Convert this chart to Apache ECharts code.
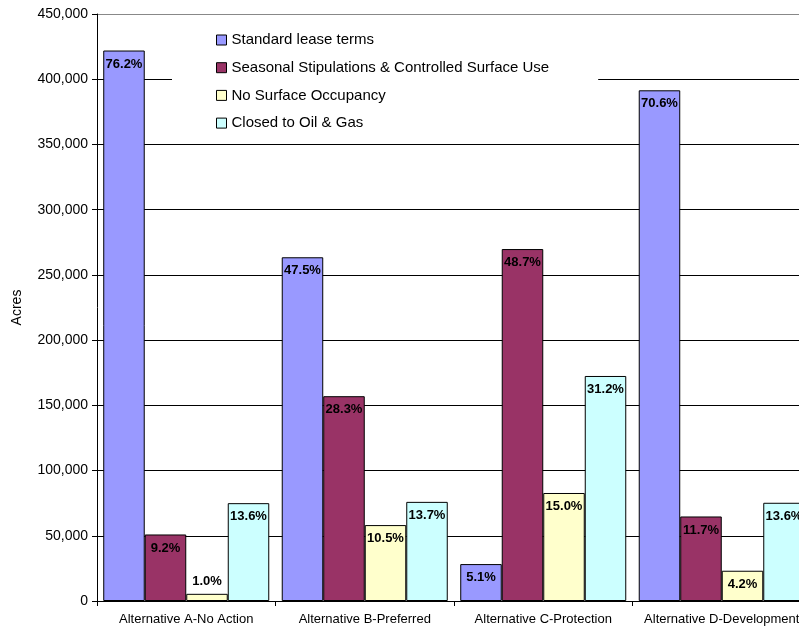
<!DOCTYPE html>
<html>
<head>
<meta charset="utf-8">
<script src="https://cdn.jsdelivr.net/npm/echarts@6/dist/echarts.min.js"></script>
<style>
  html, body { margin: 0; padding: 0; background: #fff; overflow: hidden; }
  #chart { width: 811px; height: 630px; }
</style>
</head>
<body>
<div id="chart"></div>
<script>
// Alternatives compared
const categories = [
  'Alternative A-No Action',
  'Alternative B-Preferred',
  'Alternative C-Protection',
  'Alternative D-Development'
];

// Acres under each lease stipulation class
const standardAcres = [422000, 263500, 28300, 391500];
const seasonalAcres = [51000, 157000, 269800, 64800];
const nsoAcres = [5500, 58200, 82800, 23200];
const closedAcres = [75000, 76000, 172500, 75300];

// Share of each alternative's total, shown on the bars
const standardPct = ['76.2%', '47.5%', '5.1%', '70.6%'];
const seasonalPct = ['9.2%', '28.3%', '48.7%', '11.7%'];
const nsoPct = ['1.0%', '10.5%', '15.0%', '4.2%'];
const closedPct = ['13.6%', '13.7%', '31.2%', '13.6%'];

const seriesNames = [
  'Standard lease terms',
  'Seasonal Stipulations & Controlled Surface Use',
  'No Surface Occupancy',
  'Closed to Oil & Gas'
];
const seriesColors = ['#9999FF', '#993366', '#FFFFCC', '#CCFFFF'];

const FONT = 'Arial, "Liberation Sans", sans-serif';

function makeSeries(idx, values, pcts) {
  return {
    name: seriesNames[idx],
    type: 'bar',
    barGap: '0%',
    barCategoryGap: '7%',
    itemStyle: { color: seriesColors[idx], borderColor: '#000', borderWidth: 1 },
    label: {
      show: true,
      position: 'insideTop',
      distance: 7,
      color: '#000',
      fontFamily: FONT,
      fontWeight: 'bold',
      fontSize: 13,
      formatter: p => pcts[p.dataIndex]
    },
    data: values.map(v => {
      // very short bars carry their label above the bar
      if (v < 15000) {
        return { value: v, label: { position: 'top', distance: 6 } };
      }
      return v;
    })
  };
}

const chart = echarts.init(document.getElementById('chart'), null, { renderer: 'canvas' });

const gridColors = ['#000', '#000', '#000', '#000', '#000', '#000', '#000', '#000', '#000', '#888'];

chart.setOption({
  animation: false,
  backgroundColor: '#fff',
  grid: { left: 97, top: 14, right: 0, bottom: 29, containLabel: false },
  legend: {
    orient: 'vertical',
    left: 172,
    top: 18,
    padding: [14, 49, 10, 44],
    backgroundColor: '#fff',
    icon: 'rect',
    itemWidth: 10,
    itemHeight: 10,
    itemGap: 11.7,
    itemStyle: { borderColor: '#000', borderWidth: 1 },
    textStyle: { fontFamily: FONT, fontSize: 15, color: '#000', lineHeight: 16 },
    data: seriesNames
  },
  xAxis: {
    type: 'category',
    data: categories,
    axisLine: { lineStyle: { color: '#000', width: 1 } },
    axisTick: { show: true, length: 5, alignWithLabel: false, lineStyle: { color: '#000' } },
    axisLabel: { interval: 0, margin: 12, color: '#000', fontFamily: FONT, fontSize: 13 },
    splitLine: { show: false }
  },
  yAxis: {
    type: 'value',
    min: 0,
    max: 450000,
    interval: 50000,
    name: 'Acres',
    nameLocation: 'middle',
    nameGap: 73,
    nameRotate: 90,
    nameTextStyle: { fontFamily: FONT, fontSize: 14, color: '#000' },
    axisLine: { show: true, lineStyle: { color: '#000', width: 1 } },
    axisTick: { show: true, length: 5, lineStyle: { color: '#000' } },
    axisLabel: {
      margin: 9,
      color: '#000',
      fontFamily: FONT,
      fontSize: 14,
      formatter: v => v.toLocaleString('en-US')
    },
    splitLine: { show: true, lineStyle: { color: gridColors, width: 1 } }
  },
  series: [
    makeSeries(0, standardAcres, standardPct),
    makeSeries(1, seasonalAcres, seasonalPct),
    makeSeries(2, nsoAcres, nsoPct),
    makeSeries(3, closedAcres, closedPct)
  ]
});
</script>
</body>
</html>
